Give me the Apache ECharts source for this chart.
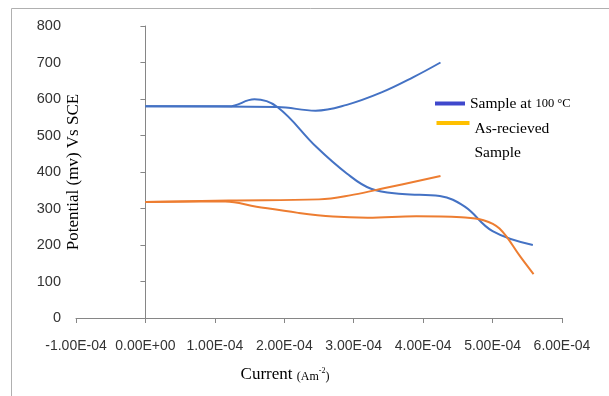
<!DOCTYPE html>
<html>
<head>
<meta charset="utf-8">
<script src="https://cdn.jsdelivr.net/npm/echarts@6/dist/echarts.min.js"></script>
<style>html,body{margin:0;padding:0;background:#fff}#c{width:609px;height:396px}</style>
</head>
<body>
<div id="c"></div>
<script>
// Sample at 100 °C — cathodic branch
var blueCathX = [0, 1.2e-4, 1.57e-4, 1.9e-4, 2.46e-4, 2.9e-4, 3.25e-4, 3.7e-4, 4.24e-4, 4.6e-4, 5.0e-4, 5.58e-4];
var blueCathY = [580, 580, 599, 578, 469, 396, 354, 340, 334, 305, 238, 200];
// Sample at 100 °C — anodic branch
var blueAnodX = [0, 1.9e-4, 2.45e-4, 2.9e-4, 3.4e-4, 3.86e-4, 4.25e-4];
var blueAnodY = [580, 578, 568, 584, 618, 660, 700];
// As-recieved — anodic branch
var orAnodX = [0, 1.2e-4, 2.5e-4, 3.0e-4, 3.45e-4, 4.25e-4];
var orAnodY = [318, 322, 325, 338, 356, 389];
// As-recieved — cathodic branch
var orCathX = [0, 1.15e-4, 1.6e-4, 2.2e-4, 2.7e-4, 3.2e-4, 3.9e-4, 4.55e-4, 4.87e-4, 5.1e-4, 5.4e-4, 5.59e-4];
var orCathY = [318, 319, 305, 288, 278, 275, 279, 276, 268, 245, 168, 120];

var xTickLabels = ['-1.00E-04', '0.00E+00', '1.00E-04', '2.00E-04', '3.00E-04', '4.00E-04', '5.00E-04', '6.00E-04'];
var yTickLabels = ['0', '100', '200', '300', '400', '500', '600', '700', '800'];

var nameBlue = 'Sample at 100 °C';
var nameOrange = 'As-recieved Sample';

function zip(xs, ys) { return xs.map(function (x, i) { return [x, ys[i]]; }); }

var chart = echarts.init(document.getElementById('c'));
var lineBase = { type: 'line', showSymbol: false, symbol: 'none', smooth: 0.4, z: 3 };
function mk(name, xs, ys, color) {
  return Object.assign({}, lineBase, {
    name: name, data: zip(xs, ys),
    lineStyle: { color: color, width: 2 }, itemStyle: { color: color }
  });
}
chart.setOption({
  animation: false,
  backgroundColor: '#fff',
  graphic: [{
    type: 'rect', silent: true,
    shape: { x: 11.5, y: 8.5, width: 800, height: 600 },
    style: { fill: 'none', stroke: '#b0b0b0', lineWidth: 1 }
  }],
  grid: { left: 76, right: 47, top: 26, bottom: 78, outerBoundsMode: 'none' },
  legend: [{
    orient: 'vertical', left: 435, top: 95.5, padding: 0,
    icon: 'rect', itemWidth: 30, itemHeight: 4, itemGap: 0,
    data: [{ name: nameBlue, itemStyle: { color: '#3F48CC' } }],
    formatter: function () { return '{a|Sample at }{b|100 °C}'; },
    textStyle: {
      color: '#000',
      rich: {
        a: { fontFamily: 'Liberation Serif', fontSize: 15.5, lineHeight: 20, color: '#000' },
        b: { fontFamily: 'Liberation Serif', fontSize: 12.5, lineHeight: 20, color: '#000' }
      }
    }
  }, {
    orient: 'vertical', left: 436.5, top: 121, padding: 0,
    icon: 'rect', itemWidth: 33, itemHeight: 4, itemGap: 0,
    data: [{ name: nameOrange, itemStyle: { color: '#FFC000' } }],
    formatter: function () { return '{a|As-recieved}\n{a|Sample}'; },
    textStyle: {
      color: '#000', padding: [35.5, 0, 0, 0],
      rich: {
        a: { fontFamily: 'Liberation Serif', fontSize: 15.5, lineHeight: 23.5, color: '#000' }
      }
    }
  }],
  xAxis: {
    type: 'value', min: -1e-4, max: 6e-4, interval: 1e-4,
    name: '{a|Current }{b|(Am}{c|-2}{b|)}',
    nameLocation: 'middle', nameGap: 45, nameMoveOverlap: false,
    nameTextStyle: {
      padding: [0, 68, 0, 0],
      rich: {
        a: { fontFamily: 'Liberation Serif', fontSize: 17, color: '#000', lineHeight: 20, verticalAlign: 'bottom' },
        b: { fontFamily: 'Liberation Serif', fontSize: 12, color: '#000', lineHeight: 20, verticalAlign: 'bottom' },
        c: { fontFamily: 'Liberation Serif', fontSize: 8, color: '#000', lineHeight: 8, verticalAlign: 'bottom', padding: [0, 0, 8, 0] }
      }
    },
    splitLine: { show: false },
    axisLine: { onZero: true, lineStyle: { color: '#868686', width: 1 } },
    axisTick: { show: true, length: 5, lineStyle: { color: '#868686' } },
    axisLabel: {
      margin: 21, color: '#333', fontFamily: 'Liberation Sans', fontSize: 14,
      formatter: function (v, i) { return xTickLabels[i]; }
    }
  },
  yAxis: {
    type: 'value', min: 0, max: 800, interval: 100,
    name: 'Potential (mv) Vs SCE',
    nameLocation: 'middle', nameGap: -6, nameMoveOverlap: false,
    nameTextStyle: { fontFamily: 'Liberation Serif', fontSize: 17, color: '#000' },
    splitLine: { show: false },
    axisLine: { show: true, onZero: true, lineStyle: { color: '#868686', width: 1 } },
    axisTick: { show: true, length: 5, lineStyle: { color: '#868686' } },
    axisLabel: {
      margin: 15, color: '#333', fontFamily: 'Liberation Sans', fontSize: 14.5,
      formatter: function (v, i) { return yTickLabels[i]; }
    }
  },
  series: [
    mk(nameBlue, blueCathX, blueCathY, '#4472C4'),
    mk(nameBlue, blueAnodX, blueAnodY, '#4472C4'),
    mk(nameOrange, orAnodX, orAnodY, '#ED7D31'),
    mk(nameOrange, orCathX, orCathY, '#ED7D31')
  ]
});
</script>
</body>
</html>
